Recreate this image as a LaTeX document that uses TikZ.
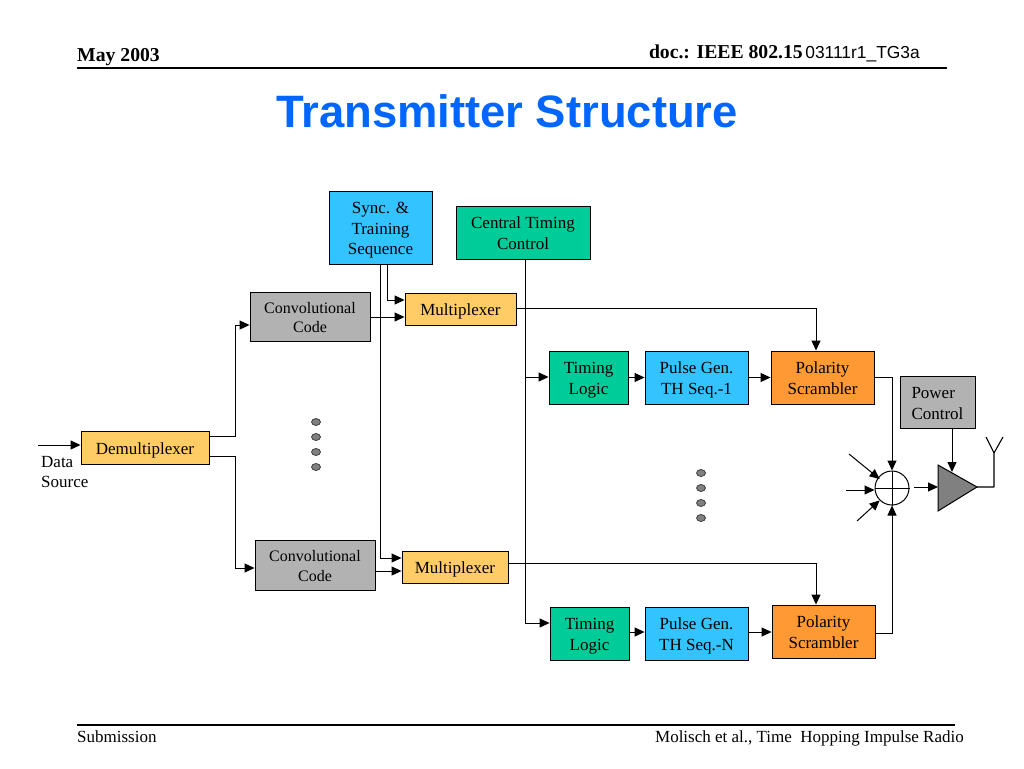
\documentclass[tikz,border=0pt]{standalone}
\usepackage{fontspec}
\setmainfont{Liberation Serif}
\newfontfamily\arialf{Liberation Sans}
\usetikzlibrary{arrows.meta,calc,shapes.geometric}
\definecolor{cyanb}{RGB}{51,196,255}
\definecolor{greenb}{RGB}{0,204,153}
\definecolor{greyb}{RGB}{178,178,178}
\definecolor{yellb}{RGB}{255,204,102}
\definecolor{orab}{RGB}{255,153,51}
\definecolor{titleb}{RGB}{0,102,255}
\definecolor{ampg}{RGB}{128,128,128}
\definecolor{dotg}{RGB}{128,128,128}
\newcommand{\tbc}[1]{\raisebox{-2.5pt}[\height][\depth]{\begin{tabular}{@{}c@{}}#1\end{tabular}}}
\newcommand{\tbl}[1]{\raisebox{-2.5pt}[\height][\depth]{\begin{tabular}{@{}l@{}}#1\end{tabular}}}
\tikzset{
  x=1pt,y=-1pt,
  blk/.style={draw=black,line width=0.9pt,inner sep=0pt,font=\fontsize{17}{20.8}\selectfont},
  cyanbox/.style={blk,fill=cyanb},
  greenbox/.style={blk,fill=greenb},
  greybox/.style={blk,fill=greyb},
  yellbox/.style={blk,fill=yellb},
  orabox/.style={blk,fill=orab},
  wire/.style={line width=1pt,draw=black},
  arr/.style={wire,-{Triangle[length=10pt,width=9pt]}},
  txt/.style={inner sep=0pt,font=\fontsize{17}{20}\selectfont},
  hdr/.style={inner sep=0pt,font=\fontsize{19.7}{22}\selectfont\bfseries},
  dotb/.style={draw=black!80,fill=dotg,line width=0.7pt,ellipse,minimum width=9pt,minimum height=7pt,inner sep=0pt},
  rule/.style={line width=1.1pt,draw=black},
}
\begin{document}
\begin{tikzpicture}
\useasboundingbox (0,0) rectangle (1024,768);
% header & footer
\node[hdr,anchor=base west] (may) at (77,61) {May 2003};
\node[inner sep=0pt,anchor=base east,font=\fontsize{17.4}{20}\arialf] (doccode) at (920,59) {03111r1\_TG3a};
\node[hdr,anchor=base east] (doc) at (803,59) {doc.: IEEE 802.15};
\coordinate (hl) at (77,68); \coordinate (hr) at (947,68);
\draw[rule] (hl) -- (hr);
\node[inner sep=0pt,text=titleb,font=\fontsize{45.4}{50}\arialf\bfseries] (title) at (507,111) {Transmitter Structure};
\coordinate (fl) at (77,725); \coordinate (fr) at (955,725);
\draw[rule] (fl) -- (fr);
\node[txt,anchor=base west] (sub) at (77,742) {Submission};
\node[txt,anchor=base east] (auth) at (964,742) {Molisch et al., Time\ \ Hopping Impulse Radio};
% blocks
\node[cyanbox,minimum width=103pt,minimum height=73pt] (sync) at (380.5,227.5) {\tbc{Sync. \&\\Training\\Sequence}};
\node[greenbox,minimum width=134pt,minimum height=53pt] (ctc) at (523,232.5) {\tbc{Central Timing\\Control}};
\node[greybox,minimum width=120pt,minimum height=49pt,font=\fontsize{16}{19.5}\selectfont] (conva) at (310,316.5) {\tbc{Convolutional\\Code}};
\node[yellbox,minimum width=111pt,minimum height=32pt] (muxa) at (460.5,309) {\tbc{Multiplexer}};
\node[greenbox,minimum width=79pt,minimum height=53pt] (tima) at (588.5,377.5) {\tbc{Timing\\Logic}};
\node[cyanbox,minimum width=103pt,minimum height=53pt] (pula) at (696.5,377.5) {\tbc{Pulse Gen.\\TH Seq.-1}};
\node[orabox,minimum width=103pt,minimum height=53pt] (pola) at (822.5,377.5) {\tbc{Polarity\\Scrambler}};
\node[greybox,minimum width=75pt,minimum height=52pt,text width=52pt] (pow) at (937.5,402) {\tbl{Power\\Control}};
\node[yellbox,minimum width=128pt,minimum height=33pt] (dmx) at (145,447.5) {\tbc{Demultiplexer}};
\node[greybox,minimum width=120pt,minimum height=50pt,font=\fontsize{16}{19.5}\selectfont] (convb) at (315,565) {\tbc{Convolutional\\Code}};
\node[yellbox,minimum width=106pt,minimum height=32pt] (muxb) at (455,567) {\tbc{Multiplexer}};
\node[greenbox,minimum width=79pt,minimum height=53pt] (timb) at (589.5,633.5) {\tbc{Timing\\Logic}};
\node[cyanbox,minimum width=103pt,minimum height=53pt] (pulb) at (696.5,633.5) {\tbc{Pulse Gen.\\TH Seq.-N}};
\node[orabox,minimum width=103pt,minimum height=53pt] (polb) at (823.5,631.5) {\tbc{Polarity\\Scrambler}};
\node[txt,align=left,anchor=north west] (src) at (41,456) {Data\\Source};
% summer
\node[circle,draw=black,fill=white,line width=1pt,minimum size=34pt,inner sep=0pt] (sum) at (892,488) {};
\draw[line width=0.8pt] (sum.west) -- (sum.east) (sum.north) -- (sum.south);
% amplifier
\coordinate (ampa) at (938,465); \coordinate (ampb) at (938,511); \coordinate (ampc) at (977,487);
\coordinate (ampin) at (938,487);
\coordinate (amptop) at (952,472);
\draw[line width=1pt,fill=ampg] (ampa) -- (ampc) -- (ampb) -- cycle;
% antenna
\coordinate (antb) at (994,487); \coordinate (antf) at (994,453);
\coordinate (antl) at (986,437); \coordinate (antr) at (1003,437);
\draw[line width=1.1pt,line join=round] (ampc) -- (antb) -- (antf) -- (antl) (antf) -- (antr);
% dots
\foreach \n/\yy in {a/422,b/437,c/452,d/467} \node[dotb] (dl\n) at (316,\yy) {};
\foreach \n/\yy in {a/473,b/488,c/503,d/518} \node[dotb] (dr\n) at (701,\yy) {};
% wires
\coordinate (datain) at (38,445);
\draw[arr] (datain) -- (dmx.west |- datain);
\coordinate (dua) at (235,436); \coordinate (dub) at (235,325);
\draw[arr] (dmx.east |- dua) -- (dua) -- (dub) -- (conva.west |- dub);
\coordinate (dla) at (235,456); \coordinate (dlb) at (235,568);
\draw[arr] (dmx.east |- dla) -- (dla) -- (dlb) -- (convb.west |- dlb);
\coordinate (ca) at (370,317);
\draw[arr] (conva.east |- ca) -- (muxa.west |- ca);
\coordinate (sa) at (387,300);
\draw[arr] (sync.south -| sa) -- (sa) -- (muxa.west |- sa);
\coordinate (sb) at (380,558);
\draw[arr] (sync.south -| sb) -- (sb) -- (muxb.west |- sb);
\coordinate (cb) at (375,571);
\draw[arr] (convb.east |- cb) -- (muxb.west |- cb);
\coordinate (ma) at (816,308);
\draw[arr] (muxa.east |- ma) -- (ma) -- (pola.north -| ma);
\coordinate (mb) at (816,563);
\draw[arr] (muxb.east |- mb) -- (mb) -- (polb.north -| mb);
\coordinate (ct) at (525,623); \coordinate (ctj) at (525,377);
\draw[arr] (ctc.south -| ct) -- (ct) -- (timb.west |- ct);
\draw[arr] (ctj) -- (tima.west |- ctj);
\draw[arr] (tima.east) -- (pula.west);
\draw[arr] (pula.east) -- (pola.west);
\coordinate (tb) at (640,632);
\draw[arr] (timb.east |- tb) -- (pulb.west |- tb);
\draw[arr] (pulb.east |- tb) -- (polb.west |- tb);
\coordinate (pa) at (892,377); \coordinate (pb) at (892,633);
\draw[arr] (pola.east |- pa) -- (pa) -- (sum.north);
\draw[arr] (polb.east |- pb) -- (pb) -- (sum.south);
\draw[arr] (pow.south -| amptop) -- (amptop);
\coordinate (sout) at (914,487);
\draw[arr] (sout) -- (ampin);
\coordinate (ia) at (849,454); \coordinate (ib) at (846,490); \coordinate (ic) at (857,521);
\draw[arr] (ia) -- (sum.north west |- 0,479) ;
\draw[arr] (ib) -- (sum.west |- ib);
\draw[arr] (ic) -- (sum.south west);
\end{tikzpicture}
\end{document}
